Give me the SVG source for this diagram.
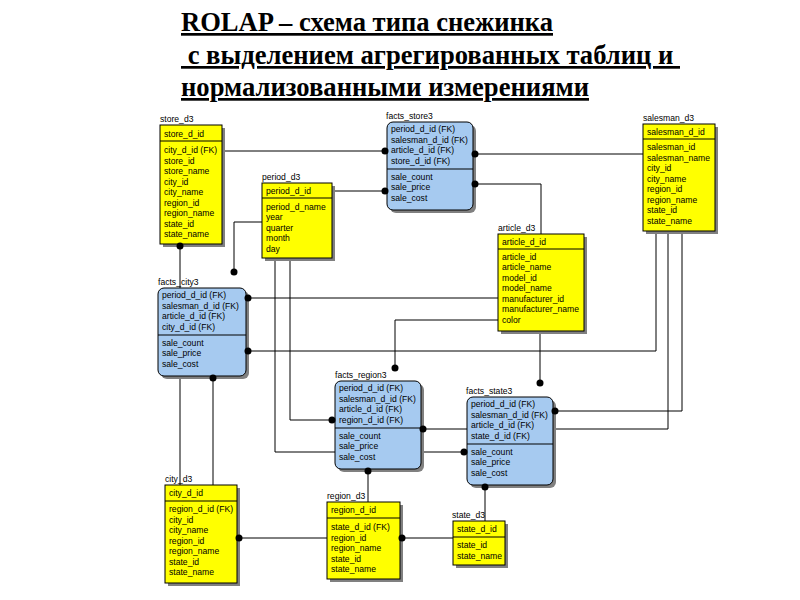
<svg xmlns="http://www.w3.org/2000/svg" width="800" height="600" viewBox="0 0 800 600">
<style>
.title{font-family:"Liberation Serif","Times New Roman",serif;font-weight:bold;font-size:27px;fill:#000;text-decoration:underline}
.t{font-family:"Liberation Sans",Arial,sans-serif;font-size:8.6px;fill:#000}
.lbl{font-family:"Liberation Sans",Arial,sans-serif;font-size:8.6px;fill:#000}
.dim{fill:#ffff00;stroke:#000;stroke-width:1}
.fact{fill:#a6caf0;stroke:#000;stroke-width:1}
.sh{fill:#808080}
.div{stroke:#000;stroke-width:1}
.c{fill:none;stroke:#000;stroke-width:1}
.dot{fill:#000}
</style>
<rect width="800" height="600" fill="#fff"/>
<g id="title">
<text class="title" x="181" y="31" textLength="372" lengthAdjust="spacingAndGlyphs">ROLAP – схема типа снежинка</text>
<text class="title" x="181" y="64" textLength="499" lengthAdjust="spacingAndGlyphs" xml:space="preserve"> с выделением агрегированных таблиц и </text>
<text class="title" x="181" y="96" textLength="408" lengthAdjust="spacingAndGlyphs">нормализованными измерениями</text>
</g>
<g id="connectors">
<path class="c" d="M222,151 H387"/>
<path class="c" d="M332,191 H387"/>
<path class="c" d="M643,154 H473"/>
<path class="c" d="M541,234 V184 H473"/>
<path class="c" d="M262,222 H234 V272"/>
<path class="c" d="M656,232 V351 H246"/>
<path class="c" d="M498,298 H246"/>
<path class="c" d="M180,485 V246"/>
<path class="c" d="M213,485 V377"/>
<path class="c" d="M498,320 H395 V368"/>
<path class="c" d="M290,258 V420 H335"/>
<path class="c" d="M275,258 V452 H467"/>
<path class="c" d="M668,232 V429 H421"/>
<path class="c" d="M682,232 V411 H553"/>
<path class="c" d="M540,331 V383"/>
<path class="c" d="M368,502 V470"/>
<path class="c" d="M485,521 V486"/>
<path class="c" d="M327,538 H237"/>
<path class="c" d="M453,538 H400"/>
</g>
<g id="store_d3">
<text class="lbl" x="160" y="122">store_d3</text>
<rect class="sh" x="163" y="128" width="62" height="119"/>
<rect class="dim" x="160" y="125" width="62" height="119"/>
<line class="div" x1="160" y1="141" x2="222" y2="141"/>
<text class="t" x="164" y="137">store_d_id</text>
<text class="t" x="164" y="153">city_d_id (FK)</text>
<text class="t" x="164" y="163.5">store_id</text>
<text class="t" x="164" y="174">store_name</text>
<text class="t" x="164" y="184.5">city_id</text>
<text class="t" x="164" y="195">city_name</text>
<text class="t" x="164" y="205.5">region_id</text>
<text class="t" x="164" y="216">region_name</text>
<text class="t" x="164" y="226.5">state_id</text>
<text class="t" x="164" y="237">state_name</text>
</g>
<g id="period_d3">
<text class="lbl" x="262" y="180">period_d3</text>
<rect class="sh" x="265" y="186" width="70" height="75"/>
<rect class="dim" x="262" y="183" width="70" height="75"/>
<line class="div" x1="262" y1="198" x2="332" y2="198"/>
<text class="t" x="266" y="194">period_d_id</text>
<text class="t" x="266" y="209.5">period_d_name</text>
<text class="t" x="266" y="220">year</text>
<text class="t" x="266" y="230.5">quarter</text>
<text class="t" x="266" y="241">month</text>
<text class="t" x="266" y="251.5">day</text>
</g>
<g id="facts_store3">
<text class="lbl" x="386" y="119">facts_store3</text>
<rect class="sh" x="390" y="125" width="86" height="88" rx="6"/>
<rect class="fact" x="387" y="122" width="86" height="88" rx="6"/>
<line class="div" x1="387" y1="169" x2="473" y2="169"/>
<text class="t" x="391" y="132">period_d_id (FK)</text>
<text class="t" x="391" y="142.5">salesman_d_id (FK)</text>
<text class="t" x="391" y="153">article_d_id (FK)</text>
<text class="t" x="391" y="163.5">store_d_id (FK)</text>
<text class="t" x="391" y="179.5">sale_count</text>
<text class="t" x="391" y="190">sale_price</text>
<text class="t" x="391" y="200.5">sale_cost</text>
</g>
<g id="salesman_d3">
<text class="lbl" x="643" y="121">salesman_d3</text>
<rect class="sh" x="646" y="127" width="72" height="107"/>
<rect class="dim" x="643" y="124" width="72" height="107"/>
<line class="div" x1="643" y1="139" x2="715" y2="139"/>
<text class="t" x="647" y="134.5">salesman_d_id</text>
<text class="t" x="647" y="150">salesman_id</text>
<text class="t" x="647" y="160.5">salesman_name</text>
<text class="t" x="647" y="171">city_id</text>
<text class="t" x="647" y="181.5">city_name</text>
<text class="t" x="647" y="192">region_id</text>
<text class="t" x="647" y="202.5">region_name</text>
<text class="t" x="647" y="213">state_id</text>
<text class="t" x="647" y="223.5">state_name</text>
</g>
<g id="article_d3">
<text class="lbl" x="498" y="231">article_d3</text>
<rect class="sh" x="501" y="237" width="86" height="97"/>
<rect class="dim" x="498" y="234" width="86" height="97"/>
<line class="div" x1="498" y1="249" x2="584" y2="249"/>
<text class="t" x="502" y="244.5">article_d_id</text>
<text class="t" x="502" y="259.5">article_id</text>
<text class="t" x="502" y="270">article_name</text>
<text class="t" x="502" y="280.5">model_id</text>
<text class="t" x="502" y="291">model_name</text>
<text class="t" x="502" y="301.5">manufacturer_id</text>
<text class="t" x="502" y="312">manufacturer_name</text>
<text class="t" x="502" y="322.5">color</text>
</g>
<g id="facts_city3">
<text class="lbl" x="158" y="285">facts_city3</text>
<rect class="sh" x="161" y="291" width="88" height="88" rx="6"/>
<rect class="fact" x="158" y="288" width="88" height="88" rx="6"/>
<line class="div" x1="158" y1="335" x2="246" y2="335"/>
<text class="t" x="162" y="298">period_d_id (FK)</text>
<text class="t" x="162" y="308.5">salesman_d_id (FK)</text>
<text class="t" x="162" y="319">article_d_id (FK)</text>
<text class="t" x="162" y="329.5">city_d_id (FK)</text>
<text class="t" x="162" y="345.5">sale_count</text>
<text class="t" x="162" y="356">sale_price</text>
<text class="t" x="162" y="366.5">sale_cost</text>
</g>
<g id="facts_region3">
<text class="lbl" x="335" y="378">facts_region3</text>
<rect class="sh" x="338" y="384" width="86" height="88" rx="6"/>
<rect class="fact" x="335" y="381" width="86" height="88" rx="6"/>
<line class="div" x1="335" y1="428" x2="421" y2="428"/>
<text class="t" x="339" y="391">period_d_id (FK)</text>
<text class="t" x="339" y="401.5">salesman_d_id (FK)</text>
<text class="t" x="339" y="412">article_d_id (FK)</text>
<text class="t" x="339" y="422.5">region_d_id (FK)</text>
<text class="t" x="339" y="438.5">sale_count</text>
<text class="t" x="339" y="449">sale_price</text>
<text class="t" x="339" y="459.5">sale_cost</text>
</g>
<g id="facts_state3">
<text class="lbl" x="466" y="394">facts_state3</text>
<rect class="sh" x="470" y="400" width="86" height="88" rx="6"/>
<rect class="fact" x="467" y="397" width="86" height="88" rx="6"/>
<line class="div" x1="467" y1="444" x2="553" y2="444"/>
<text class="t" x="471" y="407">period_d_id (FK)</text>
<text class="t" x="471" y="417.5">salesman_d_id (FK)</text>
<text class="t" x="471" y="428">article_d_id (FK)</text>
<text class="t" x="471" y="438.5">state_d_id (FK)</text>
<text class="t" x="471" y="454.5">sale_count</text>
<text class="t" x="471" y="465">sale_price</text>
<text class="t" x="471" y="475.5">sale_cost</text>
</g>
<g id="city_d3">
<text class="lbl" x="165" y="482">city_d3</text>
<rect class="sh" x="168" y="488" width="72" height="98"/>
<rect class="dim" x="165" y="485" width="72" height="98"/>
<line class="div" x1="165" y1="501" x2="237" y2="501"/>
<text class="t" x="169" y="496">city_d_id</text>
<text class="t" x="169" y="512">region_d_id (FK)</text>
<text class="t" x="169" y="522.5">city_id</text>
<text class="t" x="169" y="533">city_name</text>
<text class="t" x="169" y="543.5">region_id</text>
<text class="t" x="169" y="554">region_name</text>
<text class="t" x="169" y="564.5">state_id</text>
<text class="t" x="169" y="575">state_name</text>
</g>
<g id="region_d3">
<text class="lbl" x="327" y="499">region_d3</text>
<rect class="sh" x="330" y="505" width="73" height="77"/>
<rect class="dim" x="327" y="502" width="73" height="77"/>
<line class="div" x1="327" y1="518" x2="400" y2="518"/>
<text class="t" x="331" y="513">region_d_id</text>
<text class="t" x="331" y="530">state_d_id (FK)</text>
<text class="t" x="331" y="540.5">region_id</text>
<text class="t" x="331" y="551">region_name</text>
<text class="t" x="331" y="561.5">state_id</text>
<text class="t" x="331" y="572">state_name</text>
</g>
<g id="state_d3">
<text class="lbl" x="452" y="518">state_d3</text>
<rect class="sh" x="456" y="524" width="52" height="44"/>
<rect class="dim" x="453" y="521" width="52" height="44"/>
<line class="div" x1="453" y1="537" x2="505" y2="537"/>
<text class="t" x="457" y="532">state_d_id</text>
<text class="t" x="457" y="548">state_id</text>
<text class="t" x="457" y="558.5">state_name</text>
</g>
<g id="connector-ends">
<circle class="dot" cx="385" cy="151" r="3.5"/>
<circle class="dot" cx="385" cy="191" r="3.5"/>
<circle class="dot" cx="475" cy="154" r="3.5"/>
<circle class="dot" cx="475" cy="184" r="3.5"/>
<circle class="dot" cx="234" cy="272" r="3.5"/>
<circle class="dot" cx="248" cy="351" r="3.5"/>
<circle class="dot" cx="248" cy="298" r="3.5"/>
<circle class="dot" cx="180" cy="246" r="3.5"/>
<circle class="dot" cx="213" cy="378" r="3.5"/>
<circle class="dot" cx="395" cy="368" r="3.5"/>
<circle class="dot" cx="332" cy="420" r="3.5"/>
<circle class="dot" cx="464" cy="452" r="3.5"/>
<circle class="dot" cx="423" cy="429" r="3.5"/>
<circle class="dot" cx="555" cy="411" r="3.5"/>
<circle class="dot" cx="540" cy="383" r="3.5"/>
<circle class="dot" cx="368" cy="471" r="3.5"/>
<circle class="dot" cx="485" cy="487" r="3.5"/>
<circle class="dot" cx="239" cy="538" r="3.5"/>
<circle class="dot" cx="402" cy="538" r="3.5"/>
</g>
</svg>
